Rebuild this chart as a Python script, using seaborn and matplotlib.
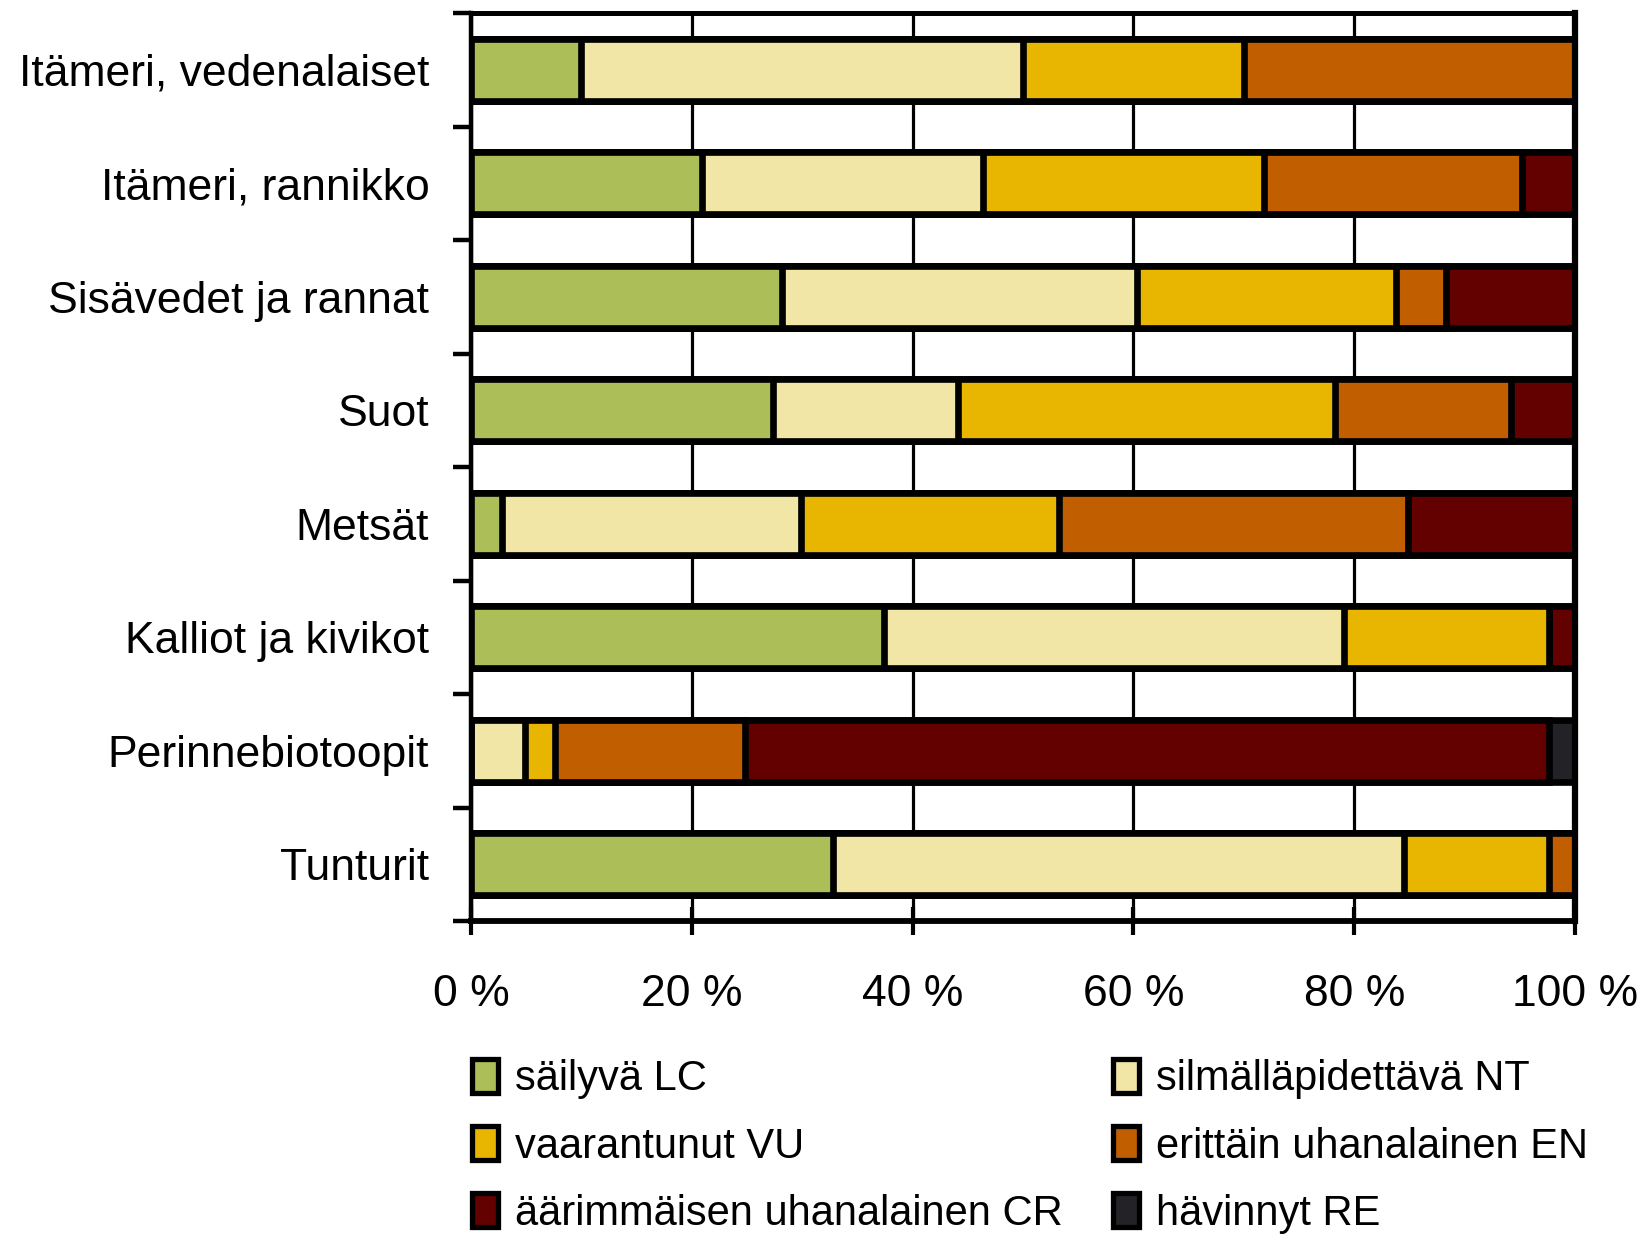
import numpy as np
import pandas as pd
import matplotlib
matplotlib.use("Agg")
import matplotlib.pyplot as plt
import seaborn as sns
from matplotlib.patches import Patch
from matplotlib.ticker import FixedLocator

categories = ["Itämeri, vedenalaiset", "Itämeri, rannikko", "Sisävedet ja rannat",
              "Suot", "Metsät", "Kalliot ja kivikot", "Perinnebiotoopit", "Tunturit"]
series_names = ["säilyvä LC", "silmälläpidettävä NT", "vaarantunut VU",
                "erittäin uhanalainen EN", "äärimmäisen uhanalainen CR", "hävinnyt RE"]
lc = [10.0, 20.9, 28.2, 27.4, 2.8, 37.4, 0.0, 32.8]
nt = [40.0, 25.5, 32.1, 16.7, 27.1, 41.7, 4.9, 51.7]
vu = [20.0, 25.4, 23.5, 34.2, 23.4, 18.5, 2.7, 13.1]
en = [30.0, 23.4, 4.5, 15.9, 31.6, 0.0, 17.2, 2.4]
cr = [0.0, 4.8, 11.7, 5.8, 15.1, 2.4, 72.8, 0.0]
re_ = [0.0, 0.0, 0.0, 0.0, 0.0, 0.0, 2.4, 0.0]
xtick_values = [0, 20, 40, 60, 80, 100]
xtick_labels = ["0 %", "20 %", "40 %", "60 %", "80 %", "100 %"]
colors = ["#abbe57", "#f1e6a6", "#e8b600", "#c15f00", "#630000", "#222227"]

sns.set_style("white")
plt.rcParams["font.family"] = ["Liberation Sans", "DejaVu Sans"]
plt.rcParams["text.color"] = "black"
plt.rcParams["xtick.color"] = "black"
plt.rcParams["ytick.color"] = "black"
plt.rcParams["axes.labelcolor"] = "black"

series = [lc, nt, vu, en, cr, re_]
vals = np.array(series, dtype=float)
vals = vals / vals.sum(axis=0) * 100.0
cum = np.cumsum(vals, axis=0)

fig = plt.figure(figsize=(16.46, 12.38), dpi=100)
ax = fig.add_axes([471 / 1646, 1 - 921 / 1238, (1575 - 471) / 1646, (921 - 13) / 1238])
ax.set_axisbelow(True)
ax.xaxis.grid(True, color="black", linewidth=2.3)

for i in reversed(range(len(series))):
    df = pd.DataFrame({"category": categories, "value": cum[i]})
    sns.barplot(data=df, x="value", y="category", order=categories, orient="h",
                color=colors[i], saturation=1, width=0.55, edgecolor="black",
                linewidth=4.8, errorbar=None, ax=ax, zorder=3)

ax.set_xlim(0, 100)
ax.set_ylim(len(categories) - 0.5, -0.5)
ax.set_xlabel("")
ax.set_ylabel("")
ax.set_xticks(xtick_values)
ax.set_xticklabels(xtick_labels, fontsize=32, color="black")
ax.set_yticks(range(len(categories)))
ax.set_yticklabels(categories, fontsize=32, color="black")
ax.yaxis.set_minor_locator(FixedLocator(np.arange(-0.5, len(categories) + 0.5, 1.0)))
ax.tick_params(axis="y", which="major", length=0, pad=30)
ax.tick_params(axis="y", which="minor", direction="out", length=13, width=3.2, color="black", left=True)
ax.tick_params(axis="x", which="major", direction="inout", length=20, width=3, color="black",
               bottom=True, pad=28)
for s, w in zip(["left", "bottom", "top", "right"], [3.2, 4.2, 3.6, 4.5]):
    ax.spines[s].set_visible(True)
    ax.spines[s].set_color("black")
    ax.spines[s].set_linewidth(w)
    ax.spines[s].set_zorder(4)

handles = [Patch(facecolor=c, edgecolor="black", linewidth=3.8) for c in colors]
order = [0, 2, 4, 1, 3, 5]
fig.legend([handles[k] for k in order], [series_names[k] for k in order],
           loc="upper left", bbox_to_anchor=(472 / 1646, 1 - 1059 / 1238), ncol=2,
           frameon=False, fontsize=30, handlelength=0.62, handleheight=0.88,
           handletextpad=0.42, columnspacing=1.2, labelspacing=0.64, borderpad=0,
           borderaxespad=0)

fig.savefig("out.png", dpi=100)
